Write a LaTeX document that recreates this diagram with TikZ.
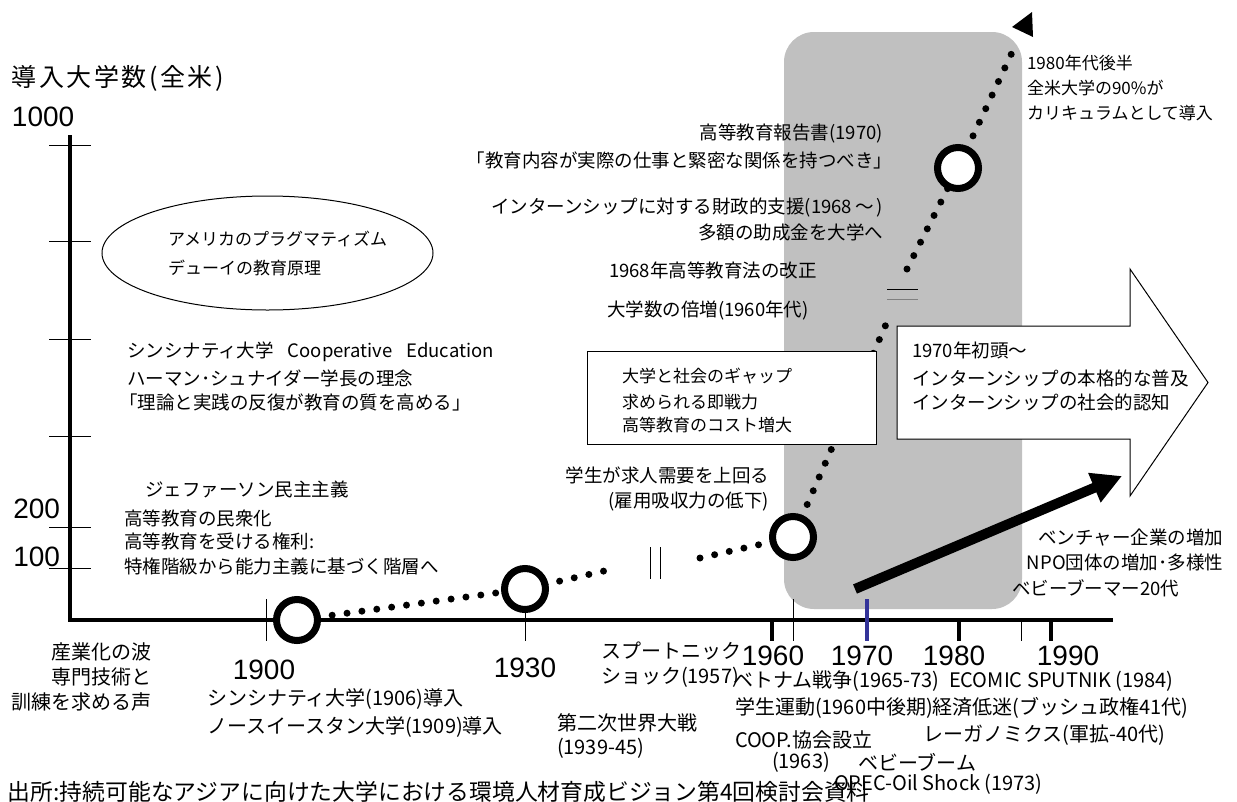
\documentclass[tikz,border=0pt]{standalone}
\usepackage{fontspec}
\setmainfont{Noto Sans CJK JP}
\newfontfamily\lat{Liberation Sans}
\newfontfamily\jpwide[LetterSpace=10]{Noto Sans CJK JP}
\usetikzlibrary{arrows.meta,shapes.geometric}
\definecolor{boxgray}{HTML}{C0C0C0}
\definecolor{tickblue}{HTML}{333399}
\tikzset{
  every node/.style={inner sep=0pt, outer sep=0pt},
  big/.style={font=\lat\fontsize{28}{30}\selectfont},
  ttl/.style={font=\jpwide\fontsize{25}{28}\selectfont},
  mid/.style={font=\fontsize{18.5}{22}\selectfont},
  sml/.style={font=\fontsize{17}{20}\selectfont},
  low/.style={font=\fontsize{20}{24}\selectfont},
  src/.style={font=\fontsize{22.8}{26}\selectfont},
  axisline/.style={line width=4pt},
  hair/.style={line width=1pt},
  majortick/.style={line width=4.5pt},
  ring/.style={circle, draw=black, fill=white, line width=7pt, minimum size=41pt},
  dotline/.style={line width=7pt, line cap=round, dash pattern=on 0pt off 15pt},
}
\begin{document}
\begin{tikzpicture}[x=1pt,y=-1pt]
\useasboundingbox (0,0) rectangle (1237,801);
\fill[white] (0,0) rectangle (1237,801);
% gray period
\fill[boxgray, rounded corners=30pt] (784,32) rectangle (1022,609);
% axes
\draw[axisline] (70,135) -- (70,620) -- (1113,620);
\foreach \yy in {145,241,339,436,527,568} \draw[hair] (49,\yy) -- (91,\yy);
\draw[hair] (266,599) -- (266,641);
\draw[hair] (525,600) -- (525,641);
\draw[majortick] (772,620) -- (772,641);
\draw[hair] (793,599) -- (793,641);
\draw[majortick, tickblue] (867,599) -- (867,641);
\draw[majortick] (959,620) -- (959,641);
\draw[hair] (1021,620) -- (1021,641);
\draw[majortick] (1051,620) -- (1051,641);
% rings
\node[ring] (c1) at (297,620) {};
\node[ring] (c2) at (525,589) {};
\node[ring] (c3) at (793,537) {};
\node[ring] (c4) at (958,168) {};
% dotted growth line
\coordinate (b1) at (604,571);
\coordinate (d0) at (700,558);
\coordinate (e1) at (887,322);
\coordinate (e2) at (907,269);
\coordinate (f1) at (1016,44);
\coordinate (tip) at (1032,12);
\draw[dotline] (c1) -- (c2);
\draw[dotline] (c2) -- (b1);
\draw[dotline] (d0) -- (c3);
\draw[dotline] (c3) -- (e1);
\draw[dotline] (e2) -- (c4);
\draw[dotline] (c4) -- (f1);
\fill (tip) -- (1012,27) -- (1033,37) -- cycle;
% breaks
\draw[hair] (887,289) -- (918,289);
\draw[hair, black!50] (887,299) -- (918,299);
\draw[hair] (650,547) -- (650,579);
\draw[hair] (660,547) -- (660,579);
% thick arrow
\coordinate (a0) at (855,589);
\coordinate (a1) at (1122,476);
\draw[line width=10pt, -{Triangle[length=30pt,width=30pt]}] (a0) -- (a1);
% boxes
\node[draw, hair, fill=white, minimum width=289pt, minimum height=93pt] (gapbox) at (731.5,397.5) {};
\draw[hair, fill=white] (897,326) -- (1130,326) -- (1130,269) -- (1208,382.5) -- (1130,496) -- (1130,439) -- (897,439) -- cycle;
\node[draw, hair, ellipse, minimum width=331pt, minimum height=114pt] (ell) at (267.5,253) {};
% texts
\node[ttl, anchor=west] (title) at (12,78) {導入大学数(全米)};
\node[big, anchor=west] (v1000) at (12,117) {1000};
\node[big, anchor=east] (v200) at (60,509) {200};
\node[big, anchor=east] (v100) at (60,557) {100};
\node[sml, anchor=west] (el1) at (168,239) {アメリカのプラグマティズム};
\node[sml, anchor=west] (el2) at (168,268) {デューイの教育原理};
\node[mid, anchor=west] (ci1) at (127,352) {シンシナティ大学\hspace{14pt}Cooperative\hspace{14pt}Education};
\node[mid, anchor=west] (ci2) at (127,378) {ハーマン･シュナイダー学長の理念};
\node[mid, anchor=west] (ci3) at (119,402) {「理論と実践の反復が教育の質を高める」};
\node[mid, anchor=west] (j1) at (145,489) {ジェファーソン民主主義};
\node[mid, anchor=west] (j2) at (124,518) {高等教育の民衆化};
\node[mid, anchor=west] (j3) at (124,541) {高等教育を受ける権利:};
\node[mid, anchor=west] (j4) at (124,566) {特権階級から能力主義に基づく階層へ};
\node[mid, anchor=east] (h1) at (883,133) {高等教育報告書(1970)};
\node[mid, anchor=east] (h2) at (892,160) {「教育内容が実際の仕事と緊密な関係を持つべき」};
\node[mid, anchor=east] (h3) at (883,208) {インターンシップに対する財政的支援(1968\,～\,)};
\node[mid, anchor=east] (h4) at (883,232) {多額の助成金を大学へ};
\node[mid, anchor=west] (h5) at (609,270) {1968年高等教育法の改正};
\node[mid, anchor=west] (h6) at (607,310) {大学数の倍増(1960年代)};
\node[sml, anchor=west] (g1) at (622,376) {大学と社会のギャップ};
\node[sml, anchor=west] (g2) at (622,402) {求められる即戦力};
\node[sml, anchor=west] (g3) at (622,425) {高等教育のコスト増大};
\node[mid, anchor=east] (s1) at (769,475) {学生が求人需要を上回る};
\node[mid, anchor=east] (s2) at (769,502) {(雇用吸収力の低下)};
\node[sml, anchor=west] (r1) at (1027,63) {1980年代後半};
\node[sml, anchor=west] (r2) at (1027,88) {全米大学の90\%が};
\node[sml, anchor=west] (r3) at (1027,113) {カリキュラムとして導入};
\node[mid, anchor=west] (w1) at (912,350) {1970年初頭～};
\node[mid, anchor=west] (w2) at (912,378) {インターンシップの本格的な普及};
\node[mid, anchor=west] (w3) at (912,402) {インターンシップの社会的認知};
\node[mid, anchor=east] (n1) at (1223,538) {ベンチャー企業の増加};
\node[mid, anchor=east] (n2) at (1223,562) {NPO団体の増加･多様性};
\node[mid, anchor=west] (n3) at (1012,588) {ベビーブーマー20代};
% lower texts
\node[low, anchor=east] (k1) at (151,652) {産業化の波};
\node[low, anchor=east] (k2) at (151,677) {専門技術と};
\node[low, anchor=east] (k3) at (151,702) {訓練を求める声};
\node[big] (t1900) at (264,670) {1900};
\node[big] (t1930) at (525,668) {1930};
\node[big] (t1960) at (773,656) {1960};
\node[big] (t1970) at (862,656) {1970};
\node[big] (t1980) at (954,656) {1980};
\node[big] (t1990) at (1068,656) {1990};
\node[low, anchor=west] (u1) at (207,699) {シンシナティ大学(1906)導入};
\node[low, anchor=west] (u2) at (207,727) {ノースイースタン大学(1909)導入};
\node[low, anchor=west] (sp1) at (601,651) {スプートニック};
\node[low, anchor=west] (sp2) at (601,677) {ショック(1957)};
\node[low, anchor=west] (ww1) at (557,723) {第二次世界大戦};
\node[low, anchor=west] (ww2) at (557,748) {(1939-45)};
\node[src, anchor=west] (source) at (8,792) {出所:持続可能なアジアに向けた大学における環境人材育成ビジョン第4回検討会資料};
\node[low, anchor=west] (vn) at (733,681) {ベトナム戦争(1965-73)};
\node[low, anchor=west] (ec) at (949,681) {ECOMIC SPUTNIK (1984)};
\node[low, anchor=west] (st) at (735,708) {学生運動(1960中後期)経済低迷(ブッシュ政権41代)};
\node[low, anchor=west] (co1) at (735,740) {COOP.協会設立};
\node[low, anchor=west] (rg) at (923,735) {レーガノミクス(軍拡-40代)};
\node[low, anchor=west] (co2) at (772,762) {(1963)};
\node[low, anchor=west] (bb) at (858,762) {ベビーブーム};
\node[low, anchor=west] (op) at (834,784) {OPEC-Oil Shock (1973)};
\end{tikzpicture}
\end{document}
